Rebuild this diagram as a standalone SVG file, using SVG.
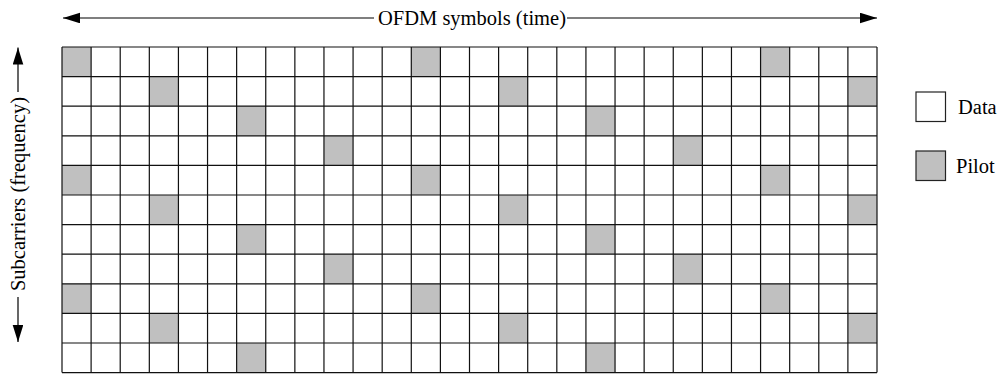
<svg xmlns="http://www.w3.org/2000/svg" width="998" height="374" viewBox="0 0 998 374">
<style>
.t{font-family:"Liberation Serif","Times New Roman",serif;font-size:20.5px;fill:#000}
.ln{stroke:#000;stroke-width:1.2;fill:none}
.grid{stroke:#111;stroke-width:1.2;fill:none}
.p{fill:#c0c0c0}
.box{stroke:#222;stroke-width:1.2}
</style>
<defs>
<marker id="ah" markerUnits="userSpaceOnUse" markerWidth="17" markerHeight="11" refX="17" refY="5.3" orient="auto">
<path d="M0,0 L17,5.3 L0,10.6 z" fill="#000"/>
</marker>
</defs>
<rect width="998" height="374" fill="#fff"/>
<g id="connectors">
<line class="ln" x1="374" y1="18" x2="63" y2="18" marker-end="url(#ah)"/>
<line class="ln" x1="567" y1="18" x2="877" y2="18" marker-end="url(#ah)"/>
<line class="ln" x1="18" y1="92" x2="18" y2="47.5" marker-end="url(#ah)"/>
<line class="ln" x1="18" y1="297" x2="18" y2="342" marker-end="url(#ah)"/>
</g>
<g id="label-time"><text class="t" x="472" y="25" text-anchor="middle">OFDM symbols (time)</text></g>
<g id="label-freq"><text class="t" transform="translate(24.5,194) rotate(-90)" text-anchor="middle">Subcarriers (frequency)</text></g>
<g id="grid">
<rect x="62" y="47" width="815" height="325.6" fill="#fff"/>
<g class="p">
<rect x="62" y="47" width="29.11" height="29.6"/>
<rect x="411.29" y="47" width="29.11" height="29.6"/>
<rect x="760.57" y="47" width="29.11" height="29.6"/>
<rect x="149.32" y="76.6" width="29.11" height="29.6"/>
<rect x="498.61" y="76.6" width="29.11" height="29.6"/>
<rect x="847.89" y="76.6" width="29.11" height="29.6"/>
<rect x="236.64" y="106.2" width="29.11" height="29.6"/>
<rect x="585.93" y="106.2" width="29.11" height="29.6"/>
<rect x="323.96" y="135.8" width="29.11" height="29.6"/>
<rect x="673.25" y="135.8" width="29.11" height="29.6"/>
<rect x="62" y="165.4" width="29.11" height="29.6"/>
<rect x="411.29" y="165.4" width="29.11" height="29.6"/>
<rect x="760.57" y="165.4" width="29.11" height="29.6"/>
<rect x="149.32" y="195" width="29.11" height="29.6"/>
<rect x="498.61" y="195" width="29.11" height="29.6"/>
<rect x="847.89" y="195" width="29.11" height="29.6"/>
<rect x="236.64" y="224.6" width="29.11" height="29.6"/>
<rect x="585.93" y="224.6" width="29.11" height="29.6"/>
<rect x="323.96" y="254.2" width="29.11" height="29.6"/>
<rect x="673.25" y="254.2" width="29.11" height="29.6"/>
<rect x="62" y="283.8" width="29.11" height="29.6"/>
<rect x="411.29" y="283.8" width="29.11" height="29.6"/>
<rect x="760.57" y="283.8" width="29.11" height="29.6"/>
<rect x="149.32" y="313.4" width="29.11" height="29.6"/>
<rect x="498.61" y="313.4" width="29.11" height="29.6"/>
<rect x="847.89" y="313.4" width="29.11" height="29.6"/>
<rect x="236.64" y="343" width="29.11" height="29.6"/>
<rect x="585.93" y="343" width="29.11" height="29.6"/>
</g>
<path class="grid" d="M62,47V372.6M91.11,47V372.6M120.21,47V372.6M149.32,47V372.6M178.43,47V372.6M207.54,47V372.6M236.64,47V372.6M265.75,47V372.6M294.86,47V372.6M323.96,47V372.6M353.07,47V372.6M382.18,47V372.6M411.29,47V372.6M440.39,47V372.6M469.5,47V372.6M498.61,47V372.6M527.71,47V372.6M556.82,47V372.6M585.93,47V372.6M615.04,47V372.6M644.14,47V372.6M673.25,47V372.6M702.36,47V372.6M731.46,47V372.6M760.57,47V372.6M789.68,47V372.6M818.79,47V372.6M847.89,47V372.6M877,47V372.6M62,47H877M62,76.6H877M62,106.2H877M62,135.8H877M62,165.4H877M62,195H877M62,224.6H877M62,254.2H877M62,283.8H877M62,313.4H877M62,343H877M62,372.6H877"/>
</g>
<g id="legend-data">
<rect class="box" x="916" y="92" width="29.5" height="29.5" fill="#fff"/>
<text class="t" x="958" y="114">Data</text>
</g>
<g id="legend-pilot">
<rect class="box" x="916" y="151" width="29.5" height="29.5" fill="#c0c0c0"/>
<text class="t" x="956" y="173.3">Pilot</text>
</g>
</svg>
